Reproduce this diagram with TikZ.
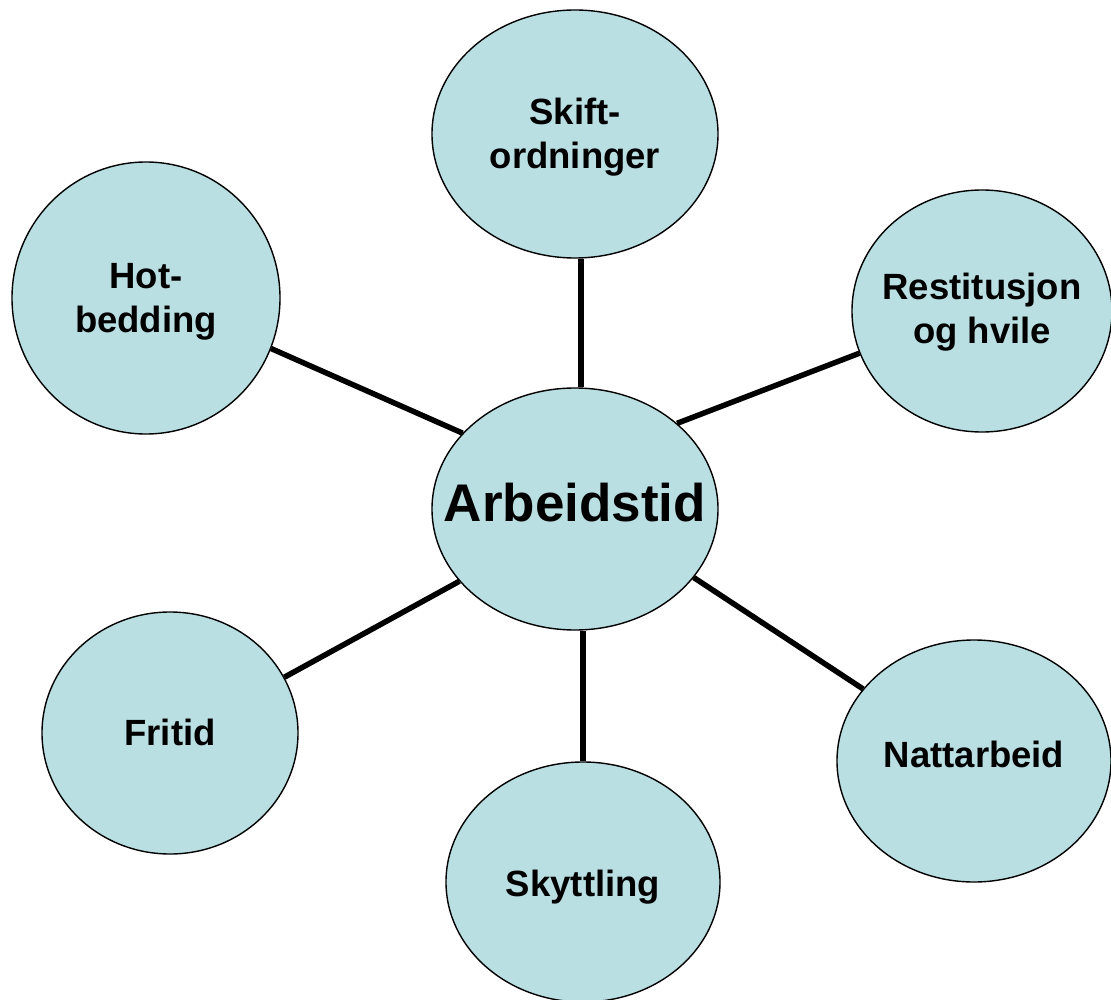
\documentclass[tikz,border=0pt]{standalone}
\usepackage{fontspec}
\setmainfont{Liberation Sans}
\usetikzlibrary{shapes.geometric}
\definecolor{bubble}{HTML}{B9DFE3}
\newcommand{\ctxt}[2][-4pt]{\raisebox{#1}[\height][\depth]{\makebox[0pt][c]{\begin{tabular}{@{}c@{}}#2\end{tabular}}}}
\tikzset{
  bub/.style={ellipse, draw=black, line width=1.4pt, fill=bubble, inner sep=0pt,
    font=\fontsize{36.5}{44}\selectfont\bfseries},
  link/.style={line width=5.5pt, black}
}
\begin{document}
\begin{tikzpicture}[x=1pt,y=-1pt]
\useasboundingbox (0,0) rectangle (1111,1000);
\node[bub, minimum width=286pt, minimum height=242pt, font=\fontsize{53}{60}\selectfont\bfseries] (c) at (575,509) {\ctxt[0pt]{Arbeidstid}};
\node[bub, minimum width=286pt, minimum height=248pt] (s) at (575,134) {\ctxt{Skift-\\ordninger}};
\node[bub, minimum width=268pt, minimum height=272pt] (h) at (146,298) {\ctxt{Hot-\\bedding}};
\node[bub, minimum width=260pt, minimum height=242pt] (r) at (982,311) {\ctxt[-2pt]{Restitusjon\\og hvile}};
\node[bub, minimum width=256pt, minimum height=242pt] (f) at (170,733) {\ctxt{Fritid}};
\node[bub, minimum width=274pt, minimum height=242pt] (n) at (974,761) {\ctxt[2pt]{Nattarbeid}};
\node[bub, minimum width=274pt, minimum height=240pt] (k) at (583,882) {\ctxt[-6pt]{Skyttling}};
\draw[link] ([xshift=6pt]s.south) -- ([xshift=6pt]c.north);
\draw[link] (h.-22) -- (c.146);
\draw[link] (r.199) -- (c.40);
\draw[link] (f.26) -- (c.212);
\draw[link] (n.147) -- (c.-30);
\draw[link] (k.north) -- ([xshift=8pt]c.south);
\end{tikzpicture}
\end{document}
